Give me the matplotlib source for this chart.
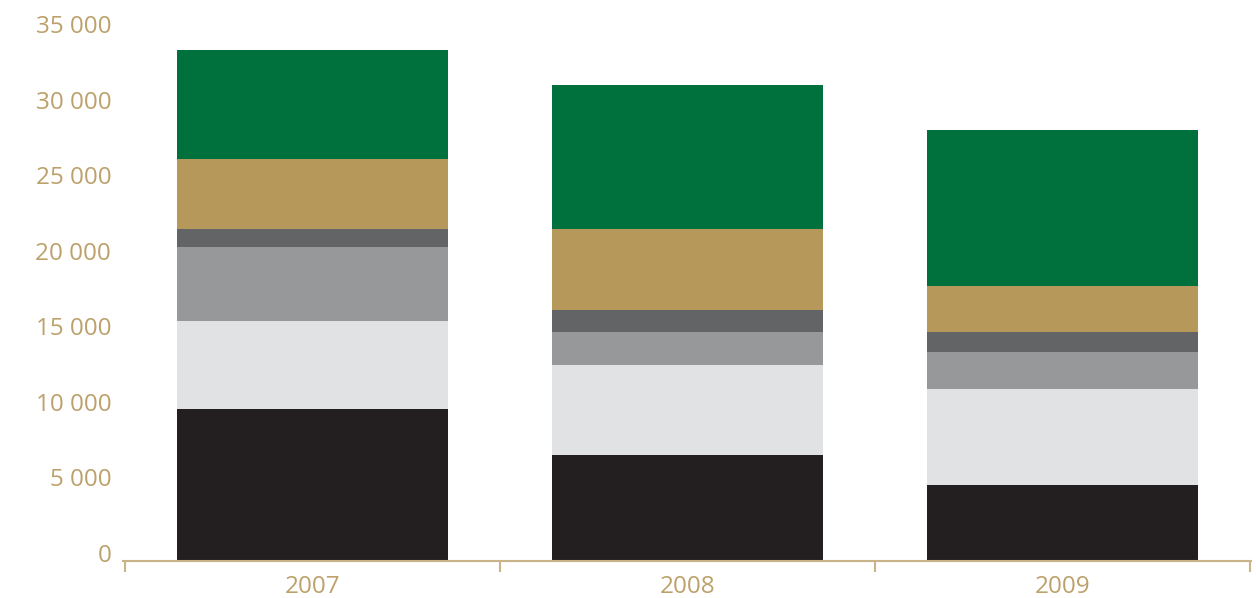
import numpy as np
import matplotlib
matplotlib.use('Agg')
import matplotlib.pyplot as plt
import matplotlib.transforms as mtransforms

plt.rcParams['font.family'] = ['Open Sans', 'DejaVu Sans']

# Daten
years = ['2007', '2008', '2009']
black = [10000, 6950, 4970]
light_grey = [5830, 5960, 6360]
mid_grey = [4900, 2185, 2450]
dark_grey = [1190, 1460, 1325]
tan = [4635, 5365, 3045]
green = [7220, 9535, 10330]

yticks = [0, 5000, 10000, 15000, 20000, 25000, 30000, 35000]
ytick_labels = ['0', '5 000', '10 000', '15 000', '20 000', '25 000', '30 000', '35 000']

series = [black, light_grey, mid_grey, dark_grey, tan, green]
colors = ['#231F20', '#E1E2E3', '#97989A', '#636466', '#B5985A', '#00713D']
label_color = '#BCA16B'

fig = plt.figure(figsize=(12.56, 5.98), dpi=100)
ax = fig.add_axes([0.0979, 0.0635, 0.898, 0.896])

x = np.arange(len(years))
bottom = np.zeros(len(years))
for vals, c in zip(series, colors):
    ax.bar(x, vals, width=0.723, bottom=bottom, color=c, linewidth=0, zorder=2)
    bottom += np.array(vals)

ax.set_xlim(-0.505, 2.503)
ax.set_ylim(0, 35500)

for s in ['top', 'right', 'left']:
    ax.spines[s].set_visible(False)
ax.spines['bottom'].set_color('#C9B487')
ax.spines['bottom'].set_linewidth(1.5)
ax.spines['bottom'].set_position(('outward', 1))

ax.set_yticks(yticks)
ax.set_yticklabels(ytick_labels)
ax.tick_params(axis='y', length=0, pad=8.5, labelsize=17.5, labelcolor=label_color)
offset = mtransforms.ScaledTranslation(0, 7.5 / 100, fig.dpi_scale_trans)
for lbl in ax.get_yticklabels():
    lbl.set_transform(lbl.get_transform() + offset)

ax.set_xticks(x)
ax.set_xticklabels(years)
ax.tick_params(axis='x', which='major', length=0, pad=9.5, labelsize=17.5, labelcolor=label_color)
ax.set_xticks([-0.5, 0.5, 1.5, 2.5], minor=True)
ax.tick_params(axis='x', which='minor', length=8, width=1.5, color='#C9B487', direction='out')

fig.savefig('out.png', dpi=100)
